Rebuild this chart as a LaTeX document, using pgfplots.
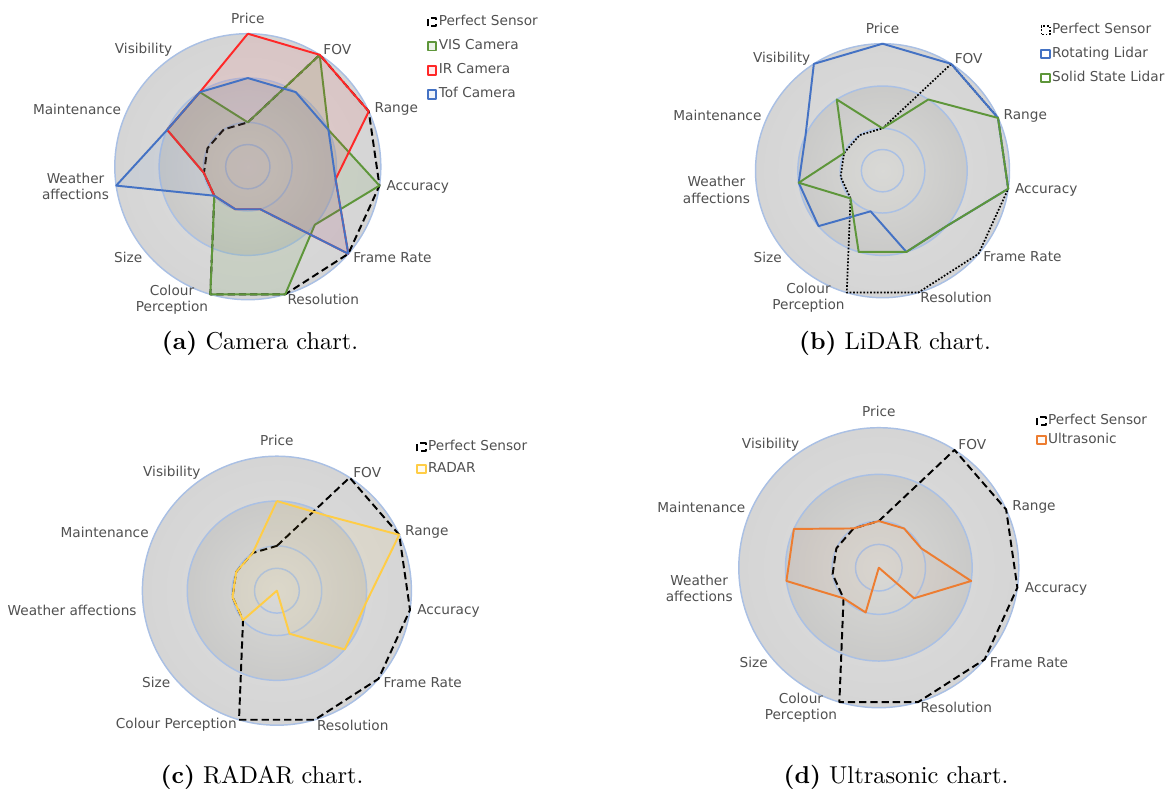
\documentclass[border=0pt]{standalone}
\usepackage{pgfplots}
\pgfplotsset{compat=1.18}
\usepackage{pgfplotstable}
\usepackage{fontspec}
\newfontfamily\labfont{DejaVu Sans}
\definecolor{labgray}{RGB}{80,80,80}
\definecolor{ringblue}{RGB}{170,192,228}
\definecolor{visgreen}{RGB}{94,150,58}
\definecolor{irred}{RGB}{255,40,40}
\definecolor{tofblue}{RGB}{68,114,196}
\definecolor{radaryellow}{RGB}{255,205,70}
\definecolor{usorange}{RGB}{237,125,49}

\pgfdeclareradialshading{discA}{\pgfpointorigin}{rgb(0bp)=(0.87,0.87,0.87); rgb(50bp)=(0.80,0.80,0.80)}
\pgfdeclareradialshading{discB}{\pgfpointorigin}{rgb(0bp)=(0.85,0.85,0.84); rgb(50bp)=(0.73,0.73,0.73)}
\pgfdeclareradialshading{discC}{\pgfpointorigin}{rgb(0bp)=(0.85,0.85,0.84); rgb(50bp)=(0.80,0.80,0.79)}

\tikzset{lab/.style={font=\labfont\fontsize{5.6}{6.7}\selectfont, text=labgray, inner sep=0pt, align=center}}

\newcommand{\radarbg}{%
  \path[shading=discA] (axis cs:0,0) ellipse [x radius=3, y radius=3];
  \draw[ringblue, line width=0.6pt] (axis cs:0,0) ellipse [x radius=3, y radius=3];
  \path[shading=discB] (axis cs:0,0) ellipse [x radius=2, y radius=2];
  \draw[ringblue, line width=0.6pt] (axis cs:0,0) ellipse [x radius=2, y radius=2];
  \path[shading=discC] (axis cs:0,0) ellipse [x radius=1, y radius=1];
  \draw[ringblue, line width=0.6pt] (axis cs:0,0) ellipse [x radius=1, y radius=1];
  \draw[ringblue, line width=0.6pt] (axis cs:0,0) ellipse [x radius=0.5, y radius=0.5];
}
\newcommand{\radarlabels}[2]{%
  \node[lab] at (axis cs:0,3.35) {Price};
  \node[lab,anchor=west] at (axis cs:1.695,2.64) {FOV};
  \node[lab,anchor=west] at (axis cs:2.85,1.3) {Range};
  \node[lab,anchor=west] at (axis cs:3.12,-0.45) {Accuracy};
  \node[lab,anchor=west] at (axis cs:2.37,-2.04) {Frame Rate};
  \node[lab,anchor=west] at (axis cs:0.885,-3.0) {Resolution};
  \node[lab,anchor=east] at (axis cs:-0.885,-3.0) {#1};
  \node[lab,anchor=east] at (axis cs:-2.37,-2.04) {Size};
  \node[lab,anchor=east] at (axis cs:-3.12,-0.45) {#2};
  \node[lab,anchor=east] at (axis cs:-2.85,1.3) {Maintenance};
  \node[lab,anchor=east] at (axis cs:-1.695,2.64) {Visibility};
}
\newcommand{\radarplot}[3][]{%
  \addplot[#1] table[x expr={\thisrow{#2}*cos(\thisrow{ang})}, y expr={\thisrow{#2}*sin(\thisrow{ang})}] {#3};
}

\pgfplotsset{radar/.style={hide axis, scale only axis, xmin=-3, xmax=3, ymin=-3, ymax=3,
  clip=false, anchor=center, legend cell align=left,
  legend image code/.code={\draw[##1] (0pt,-1.7pt) rectangle (3.4pt,1.7pt);},
  legend style={anchor=north west, draw=none, fill=none,
    font=\labfont\fontsize{5.6}{6.7}\selectfont, text=labgray, inner sep=0pt,
    nodes={inner sep=0.6pt}}},
  ln/.style={line width=0.8pt, line join=round}}

\pgfplotstableread{
cat ang perf vis ir tof
Price 90 1 1 3 2
FOV 57.27 3 3 3 2
Range 24.55 3 2 3 2
Accuracy -8.18 3 3 2 2
FrameRate -40.91 3 2 3 3
Resolution -73.64 3 3 1 1
Colour -106.36 3 3 1 1
Size -139.09 1 1 1 1
Weather -171.82 1 1 1 3
Maintenance 155.45 1 2 2 2
Visibility 122.73 1 2 2 2
Price 90 1 1 3 2
}\camtab

\pgfplotstableread{
cat ang perf rot solid
Price 90 1 3 1
FOV 57.27 3 3 2
Range 24.55 3 3 3
Accuracy -8.18 3 3 3
FrameRate -40.91 3 2 2
Resolution -73.64 3 2 2
Colour -106.36 3 1 2
Size -139.09 1 2 1
Weather -171.82 1 2 2
Maintenance 155.45 1 2 1
Visibility 122.73 1 3 2
Price 90 1 3 1
}\lidtab

\pgfplotstableread{
cat ang perf radar
Price 90 1 2
FOV 57.27 3 2
Range 24.55 3 3
Accuracy -8.18 3 2
FrameRate -40.91 3 2
Resolution -73.64 3 1
Colour -106.36 3 0
Size -139.09 1 1
Weather -171.82 1 1
Maintenance 155.45 1 1
Visibility 122.73 1 1
Price 90 1 2
}\radtab

\pgfplotstableread{
cat ang perf ultra
Price 90 1 1
FOV 57.27 3 1
Range 24.55 3 1
Accuracy -8.18 3 2
FrameRate -40.91 3 1
Resolution -73.64 3 0
Colour -106.36 3 1
Size -139.09 1 1
Weather -171.82 1 2
Maintenance 155.45 1 2
Visibility 122.73 1 1
Price 90 1 1
}\ultab

\begin{document}
\begin{tikzpicture}
\path (0,0) rectangle (478.88pt,324.31pt);

% (a) Camera
\begin{axis}[radar, at={(101.60pt,255.96pt)}, width=109.06pt, height=109.06pt,
  legend style={at={(1.172,1.077)}, row sep=3.0pt}]
\radarbg
\radarlabels{Colour\\Perception}{Weather\\affections}
\radarplot[ln, black, dash pattern=on 3pt off 1.6pt]{perf}{\camtab}
\addlegendentry{Perfect Sensor}
\radarplot[ln, visgreen, fill=visgreen, fill opacity=0.12]{vis}{\camtab}
\addlegendentry{VIS Camera}
\radarplot[ln, irred, fill=irred, fill opacity=0.09]{ir}{\camtab}
\addlegendentry{IR Camera}
\radarplot[ln, tofblue, fill=tofblue, fill opacity=0.08]{tof}{\camtab}
\addlegendentry{Tof Camera}
\end{axis}

% (b) LiDAR
\begin{axis}[radar, at={(361.83pt,254.32pt)}, width=104.14pt, height=104.14pt,
  legend style={at={(1.12,1.088)}, row sep=2.8pt}]
\radarbg
\radarlabels{Colour\\Perception}{Weather\\affections}
\radarplot[ln, black, line width=0.7pt, dash pattern=on 0.7pt off 0.7pt]{perf}{\lidtab}
\addlegendentry{Perfect Sensor}
\radarplot[ln, tofblue]{rot}{\lidtab}
\addlegendentry{Rotating Lidar}
\radarplot[ln, visgreen]{solid}{\lidtab}
\addlegendentry{Solid State Lidar}
\end{axis}

% (c) RADAR
\begin{axis}[radar, at={(113.53pt,82.12pt)}, width=110.29pt, height=110.29pt,
  legend style={at={(1.017,1.067)}, row sep=2.2pt}]
\radarbg
\radarlabels{Colour Perception}{Weather affections}
\radarplot[ln, black, dash pattern=on 3pt off 1.6pt]{perf}{\radtab}
\addlegendentry{Perfect Sensor}
\radarplot[ln, radaryellow, fill=radaryellow, fill opacity=0.08]{radar}{\radtab}
\addlegendentry{RADAR}
\end{axis}

% (d) Ultrasonic
\begin{axis}[radar, at={(360.31pt,91.55pt)}, width=114.8pt, height=114.8pt,
  legend style={at={(1.061,1.055)}, row sep=0.8pt}]
\radarbg
\radarlabels{Colour\\Perception}{Weather\\affections}
\radarplot[ln, black, dash pattern=on 3pt off 1.6pt]{perf}{\ultab}
\addlegendentry{Perfect Sensor}
\radarplot[ln, usorange, fill=usorange, fill opacity=0.04]{ultra}{\ultab}
\addlegendentry{Ultrasonic}
\end{axis}

\node[anchor=base] at (106.6pt,181.2pt) {\textbf{(a)} Camera chart.};
\node[anchor=base] at (366.95pt,181.2pt) {\textbf{(b)} LiDAR chart.};
\node[anchor=base] at (107.42pt,2.9pt) {\textbf{(c)} RADAR chart.};
\node[anchor=base] at (367.36pt,2.9pt) {\textbf{(d)} Ultrasonic chart.};
\end{tikzpicture}
\end{document}
